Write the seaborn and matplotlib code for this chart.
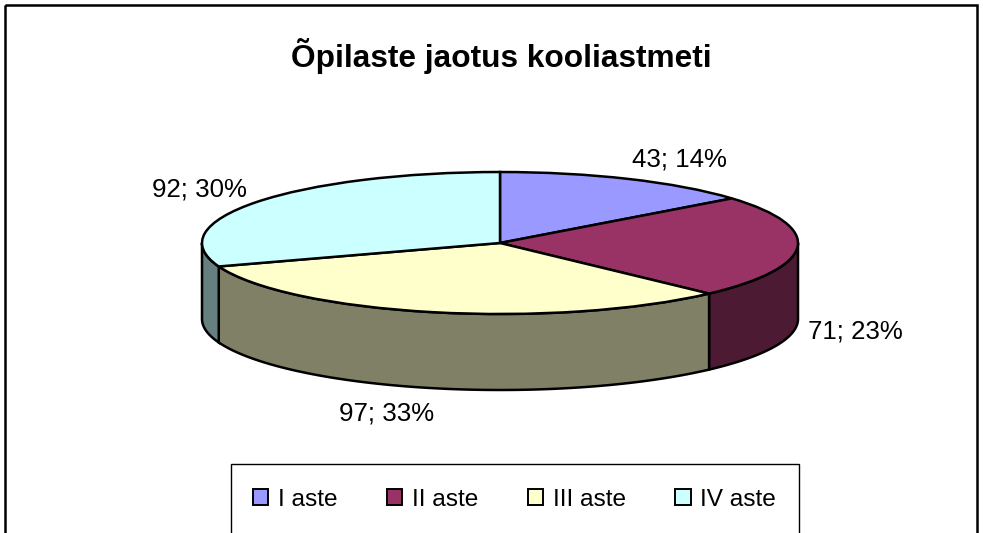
import numpy as np
import matplotlib
matplotlib.use("Agg")
import matplotlib.pyplot as plt
import matplotlib.transforms as mtransforms
from matplotlib.patches import Rectangle
import seaborn as sns

# Data
categories = ["I aste", "II aste", "III aste", "IV aste"]
counts = [43, 71, 97, 92]
percents = [14, 23, 33, 30]
title = "Õpilaste jaotus kooliastmeti"

sns.set_theme(style="white")
plt.rcParams["font.family"] = ["Liberation Sans", "DejaVu Sans"]

top_colors = sns.color_palette(["#9999FF", "#993366", "#FFFFCC", "#CCFFFF"])
side_colors = [tuple(c * 0.5 for c in col) for col in top_colors]

W, H = 983, 533
fig = plt.figure(figsize=(W / 100, H / 100), dpi=100, facecolor="white")
ax = fig.add_axes([0, 0, 1, 1])

# pixel coordinates of the picture, y going down
px = mtransforms.Affine2D().scale(1 / W, -1 / H).translate(0, 1) + fig.transFigure

# Top of the pie
wedges, _ = ax.pie(
    counts,
    colors=top_colors,
    startangle=90,
    counterclock=False,
    wedgeprops={"edgecolor": "black", "linewidth": 1.8},
)

# Squash the unit circle to the flat ellipse
cx, cy, rx, ry = 500, 243, 298, 71
depth = 76 / ry
ax.set_aspect("auto")
ax.set_xlim((0 - cx) / rx, (W - cx) / rx)
ax.set_ylim((cy - H) / ry, cy / ry)

# Side walls, only the front half is visible
edges = np.cumsum([0] + counts) / sum(counts) * 2 * np.pi
for start, end, col in zip(edges[:-1], edges[1:], side_colors):
    a = max(start, np.pi / 2)
    b = min(end, 3 * np.pi / 2)
    if a >= b:
        continue
    t = np.linspace(a, b, 80)
    xs = np.sin(t)
    ys = np.cos(t)
    ax.fill(
        np.r_[xs, xs[::-1]],
        np.r_[ys, ys[::-1] - depth],
        facecolor=col,
        edgecolor="black",
        linewidth=1.8,
        zorder=0.5,
    )

# Value labels
label_pos = [(679, 160), (855, 332), (387, 414), (199, 189)]
for n, p, (x, y) in zip(counts, percents, label_pos):
    ax.text(x, y, f"{n}; {p}%", transform=px, ha="center", va="center",
            fontsize=18.6, color="black")

ax.text(501, 56, title, transform=px, ha="center", va="center",
        fontsize=22.8, fontweight="bold", color="black")

# Chart frame and legend box both run off the bottom of the picture
ax.add_patch(Rectangle((5, 5), 972, 600, transform=px, fill=False,
                       edgecolor="black", linewidth=1.8, clip_on=False))
ax.add_patch(Rectangle((231, 464), 568, 120, transform=px, facecolor="white",
                       edgecolor="black", linewidth=1.0, clip_on=False, zorder=2))

leg = ax.legend(
    wedges,
    categories,
    ncol=4,
    loc="center left",
    bbox_to_anchor=(253, 500),
    bbox_transform=px,
    frameon=False,
    fontsize=17.6,
    labelcolor="black",
    handlelength=0.62,
    handleheight=0.62,
    handletextpad=0.4,
    columnspacing=2.03,
    borderpad=0,
    borderaxespad=0,
)
leg.set_zorder(3)
for h in leg.get_patches():
    h.set_linewidth(1.4)

fig.savefig("out.png", dpi=100)
